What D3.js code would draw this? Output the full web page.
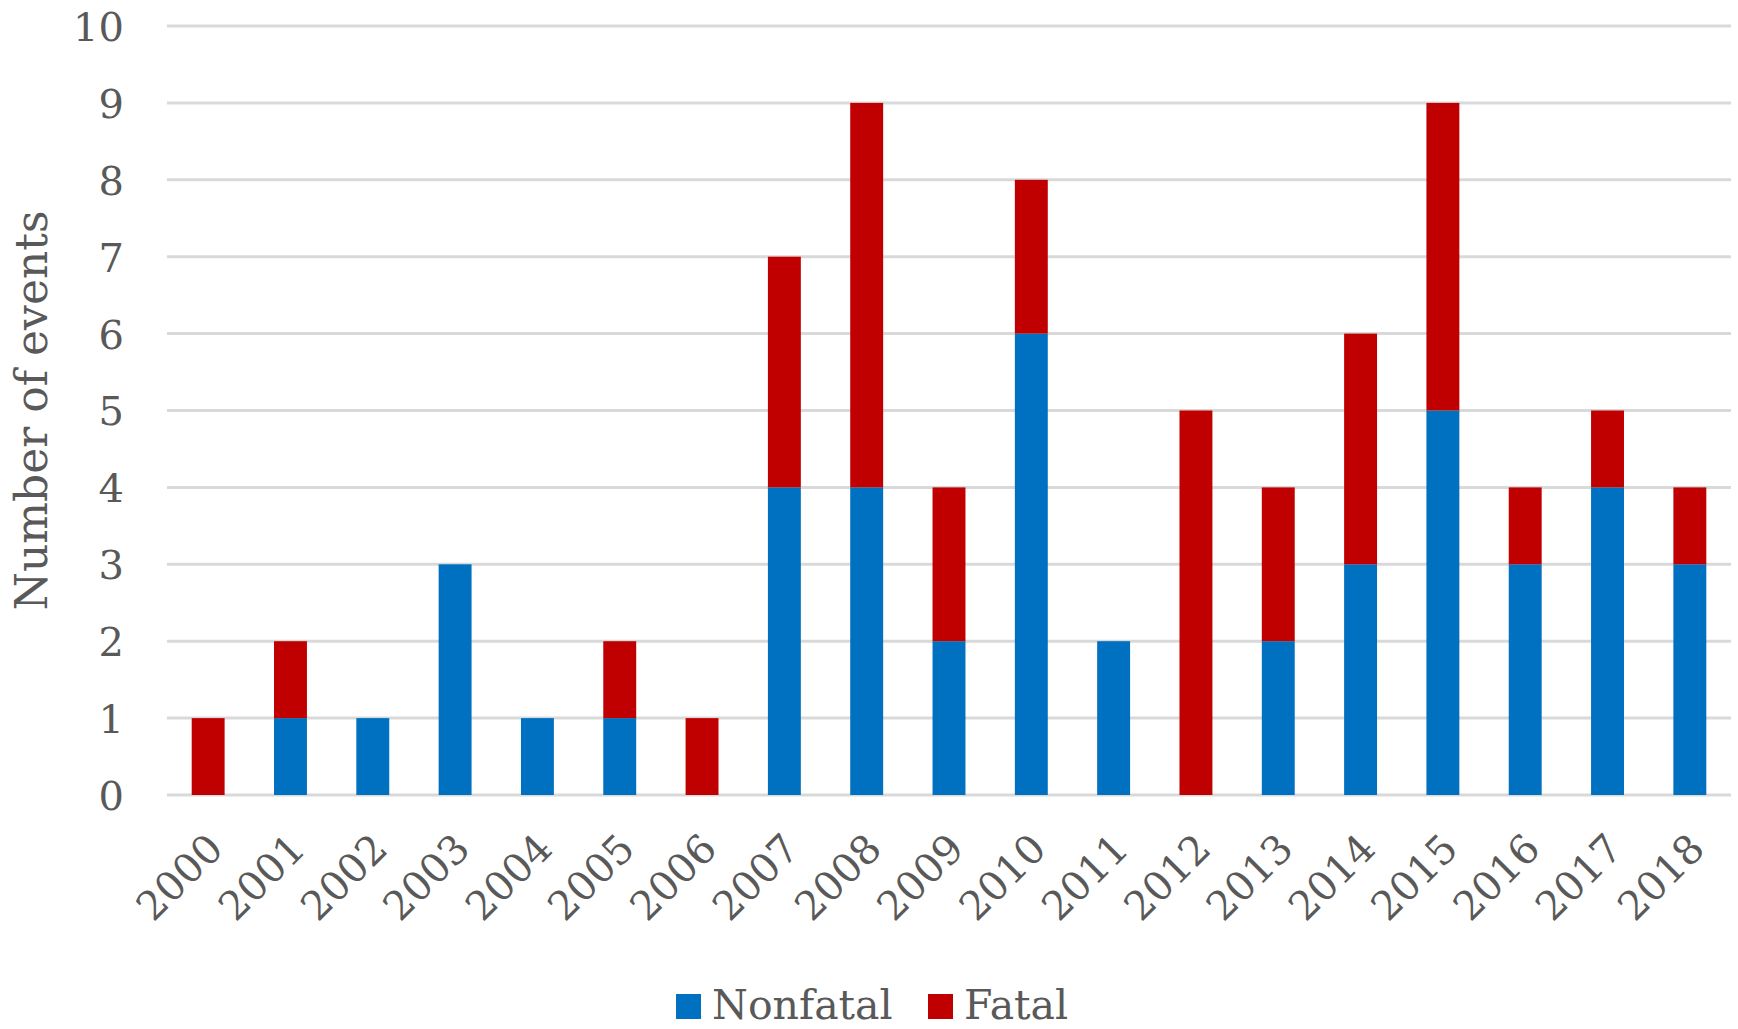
<!DOCTYPE html>
<html>
<head>
<meta charset="utf-8">
<script src="https://cdn.jsdelivr.net/npm/d3@7"></script>
<style>
  html, body { margin: 0; padding: 0; background: #fff; }
  svg { display: block; }
  text { font-family: "DejaVu Serif", serif; fill: #595959; }
</style>
</head>
<body>
<svg id="chart" width="1738" height="1029"></svg>
<script>
// Events per year, split into nonfatal and fatal
const years = ["2000","2001","2002","2003","2004","2005","2006","2007","2008","2009",
               "2010","2011","2012","2013","2014","2015","2016","2017","2018"];
const nonfatal = [0,1,1,3,1,1,0,4,4,2,6,2,0,2,3,5,3,4,3];
const fatal    = [1,1,0,0,0,1,1,3,5,2,2,0,5,2,3,4,1,1,1];
const yTicks = [0,1,2,3,4,5,6,7,8,9,10];
const seriesNames = ["Nonfatal", "Fatal"];
const seriesColors = ["#0070C0", "#C00000"];

const svg = d3.select("#chart");
const margin = { left: 167, right: 7, top: 26, bottom: 234 };
const W = 1738, H = 1029;

const x = d3.scaleBand()
  .domain(years)
  .range([margin.left, W - margin.right])
  .paddingInner(0.6)
  .paddingOuter(0.3);

const y = d3.scaleLinear()
  .domain([0, 10])
  .range([H - margin.bottom, margin.top]);

// Horizontal gridlines
svg.append("g")
  .selectAll("line")
  .data(yTicks)
  .join("line")
  .attr("x1", margin.left)
  .attr("x2", W - margin.right)
  .attr("y1", d => y(d))
  .attr("y2", d => y(d))
  .attr("stroke", "#D9D9D9")
  .attr("stroke-width", 3);

// Y axis labels
const yAxis = d3.axisLeft(y).tickValues(yTicks).tickSize(0).tickPadding(0);
const gy = svg.append("g")
  .attr("transform", `translate(${margin.left - 43},0)`)
  .call(yAxis);
gy.select(".domain").remove();
gy.selectAll("text")
  .attr("font-family", "DejaVu Serif, serif")
  .attr("font-size", 40)
  .attr("fill", "#595959")
  .attr("dy", "0.36em");

// Stacked bars
const rows = years.map((yr, i) => ({ year: yr, Nonfatal: nonfatal[i], Fatal: fatal[i] }));
const stacked = d3.stack().keys(seriesNames)(rows);

svg.append("g")
  .selectAll("g")
  .data(stacked)
  .join("g")
  .attr("fill", (d, i) => seriesColors[i])
  .selectAll("rect")
  .data(d => d)
  .join("rect")
  .attr("x", d => x(d.data.year))
  .attr("width", x.bandwidth())
  .attr("y", d => y(d[1]))
  .attr("height", d => y(d[0]) - y(d[1]));

// X axis labels, rotated
const xAxis = d3.axisBottom(x).tickSize(0).tickPadding(0);
const gx = svg.append("g")
  .attr("transform", `translate(0,${y(0)})`)
  .call(xAxis);
gx.select(".domain").remove();
gx.selectAll("text")
  .attr("font-family", "DejaVu Serif, serif")
  .attr("font-size", 40)
  .attr("fill", "#595959")
  .attr("text-anchor", "end")
  .attr("dy", null)
  .attr("y", null)
  .attr("transform", "translate(17,56) rotate(-45)");

// Axis title
svg.append("text")
  .attr("transform", `translate(47,${(y(0) + y(10)) / 2}) rotate(-90)`)
  .attr("text-anchor", "middle")
  .attr("font-size", 44)
  .text("Number of events");

// Legend
const legend = svg.append("g");
const legendX = [676, 928];
seriesNames.forEach((name, i) => {
  legend.append("rect")
    .attr("x", legendX[i])
    .attr("y", 994)
    .attr("width", 25)
    .attr("height", 25)
    .attr("fill", seriesColors[i]);
  legend.append("text")
    .attr("x", legendX[i] + 36)
    .attr("y", 1019)
    .attr("font-size", 41)
    .text(name);
});
</script>
</body>
</html>
